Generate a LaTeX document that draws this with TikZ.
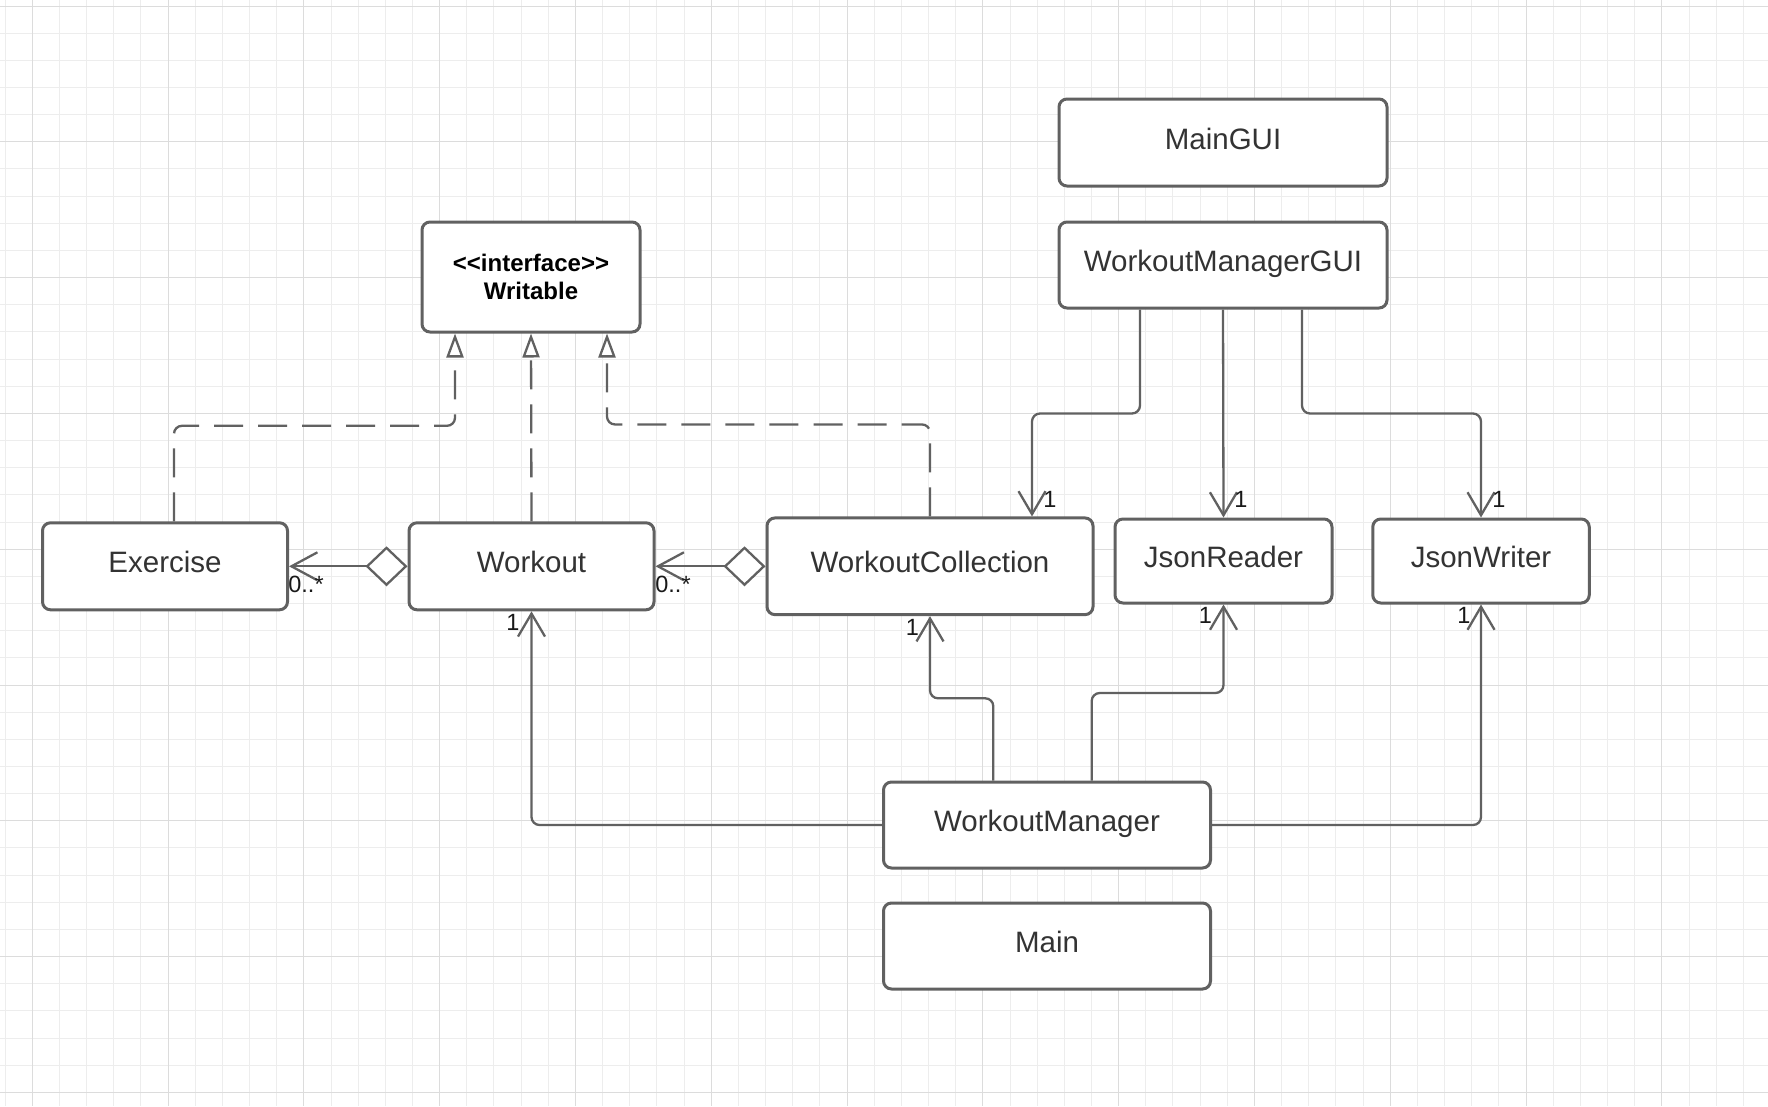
\documentclass[tikz,border=0pt]{standalone}
\usepackage{fontspec}
\setmainfont{Liberation Sans}
\usetikzlibrary{arrows.meta}
\definecolor{linegray}{HTML}{616161}
\definecolor{txtgray}{HTML}{333333}
\definecolor{gridminor}{HTML}{EDEDED}
\definecolor{gridmajor}{HTML}{DCDCDC}
\begin{document}
\begin{tikzpicture}[x=1pt,y=-1pt,
  box/.style={draw=linegray, line width=3pt, rounded corners=8pt, fill=white, inner sep=0pt},
  cls/.style={box, text=txtgray, font=\fontsize{29.5}{35}\selectfont, text height=21pt, text depth=8pt},
  conn/.style={draw=linegray, line width=2.3pt, rounded corners=8pt},
  assoc/.style={conn, -{Straight Barb[length=23pt,width=27pt]}},
  realize/.style={conn, dash pattern=on 29pt off 15pt, -{Triangle[length=24pt,width=17pt,fill=white]}},
  aggr/.style={conn, {Diamond[length=42pt,width=40pt,fill=white]}-{Straight Barb[length=26pt,width=28pt]}},
  mult/.style={text=black!90, font=\fontsize{23.5}{26}\selectfont, inner sep=0pt, anchor=base},
]
% canvas and background grid
\fill[white] (0,0) rectangle (1768,1106);
\useasboundingbox (0,0) rectangle (1768,1106);
\foreach \i in {0,...,64} {
  \draw[gridminor, line width=1pt] ({5.1+\i*27.16},0) -- ({5.1+\i*27.16},1106);
}
\foreach \j in {0,...,40} {
  \draw[gridminor, line width=1pt] (0,{6+\j*27.16}) -- (1768,{6+\j*27.16});
}
\foreach \k in {0,...,12} {
  \draw[gridmajor, line width=1pt] ({32.3+\k*135.8},0) -- ({32.3+\k*135.8},1106);
}
\foreach \k in {0,...,8} {
  \draw[gridmajor, line width=1pt] (0,{6+\k*135.8}) -- (1768,{6+\k*135.8});
}

% classes
\node[box, text=black, align=center, font=\bfseries\fontsize{24}{28.5}\selectfont,
      minimum width=218pt, minimum height=110pt] (wr) at (531,277) {{<}{<}interface{>}{>}\\Writable};
\node[cls, minimum width=328pt, minimum height=87pt] (maingui) at (1223,142.5) {MainGUI};
\node[cls, minimum width=328pt, minimum height=86pt] (wmgui) at (1223,265) {WorkoutManagerGUI};
\node[cls, minimum width=245pt, minimum height=87pt] (ex) at (165,566.3) {Exercise};
\node[cls, minimum width=245pt, minimum height=87pt] (wo) at (531.5,566.3) {Workout};
\node[cls, minimum width=326pt, minimum height=96.7pt] (wc) at (930,566.3) {WorkoutCollection};
\node[cls, minimum width=217pt, minimum height=84pt] (jr) at (1223.5,561) {JsonReader};
\node[cls, minimum width=216.5pt, minimum height=84pt] (jw) at (1481,561) {JsonWriter};
\node[cls, minimum width=327pt, minimum height=86pt] (wm) at (1047,825) {WorkoutManager};
\node[cls, minimum width=327pt, minimum height=86pt] (main) at (1047,946) {Main};

% interface realizations
\draw[realize] ([xshift=9pt]ex.north) -- ++(0,-95.5) -| ([xshift=-76pt]wr.south);
\draw[realize] (wo.north) -- (wr.south);
\draw[realize] (wc.north) -- ++(0,-92) -| ([xshift=76pt]wr.south);

% aggregations
\draw[aggr] (wo.west) -- (ex.east);
\draw[aggr] (wc.west) -- (wo.east);

% associations from the GUI
\draw[assoc] ([xshift=-83pt]wmgui.south) -- ++(0,104) -| ([xshift=102pt]wc.north);
\draw[assoc] (wmgui.south) -- (jr.north);
\draw[assoc] ([xshift=79pt]wmgui.south) -- ++(0,104) -| (jw.north);

% associations from the manager
\draw[assoc] ([xshift=-53.7pt]wm.north) -- ++(0,-82.2) -| (wc.south);
\draw[assoc] ([xshift=44.7pt]wm.north) -- ++(0,-87.5) -| (jr.south);
\draw[assoc] (wm.east) -| (jw.south);
\draw[assoc] (wm.west) -| (wo.south);

% multiplicities
\node[mult] (m1) at (306,592) {0..*};
\node[mult] (m2) at (673,592) {0..*};
\node[mult] (m3) at (513,630) {1};
\node[mult] (m4) at (912.5,635) {1};
\node[mult] (m5) at (1205.5,623) {1};
\node[mult] (m6) at (1464,623) {1};
\node[mult] (m7) at (1050,507) {1};
\node[mult] (m8) at (1241,507) {1};
\node[mult] (m9) at (1499,507) {1};
\end{tikzpicture}
\end{document}
